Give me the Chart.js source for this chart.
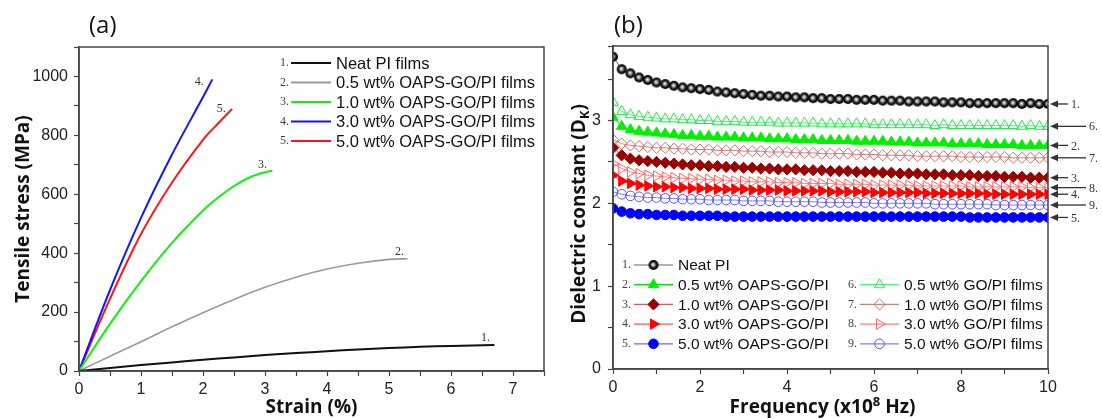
<!DOCTYPE html>
<html>
<head>
<meta charset="utf-8">
<script src="https://cdn.jsdelivr.net/npm/chart.js@4.4.0/dist/chart.umd.min.js"></script>
<style>
body { margin: 0; background: #fff; width: 1102px; height: 419px; overflow: hidden; position: relative; }
#wa { position: absolute; left: 0; top: 0; width: 550px; height: 419px; }
#wb { position: absolute; left: 550px; top: 0; width: 552px; height: 419px; }
.lbl { position: absolute; top: 7px; font: 24px "Open Sans"; color: #111; }
</style>
</head>
<body>
<div id="wa"><canvas id="ca" width="550" height="419"></canvas></div>
<div id="wb"><canvas id="cb" width="552" height="419"></canvas></div>
<div class="lbl" style="left:89px">(a)</div>
<div class="lbl" style="left:614px">(b)</div>
<script>
// ---- (a) tensile stress vs strain
const labelsA = ['Neat PI films', '0.5 wt% OAPS-GO/PI films', '1.0 wt% OAPS-GO/PI films',
                 '3.0 wt% OAPS-GO/PI films', '5.0 wt% OAPS-GO/PI films']
const strainNeat = [0, 0.5, 1, 1.5, 2, 2.5, 3, 3.5, 4, 4.5, 5, 5.5, 6, 6.7]
const stressNeat = [0, 10, 20, 29, 38, 46, 54, 61, 67, 73, 78, 82, 85, 88]
const strain05 = [0, 0.5, 1, 1.5, 2, 2.5, 3, 3.5, 4, 4.5, 5, 5.3]
const stress05 = [0, 50, 99, 150, 198, 243, 284, 318, 346, 366, 379, 381]
const strain10 = [0, 0.5, 1, 1.5, 2, 2.25, 2.5, 2.75, 3, 3.12]
const stress10 = [0, 160, 305, 435, 545, 590, 628, 657, 675, 680]
const strain30 = [0, 0.5, 1, 1.5, 2, 2.15]
const stress30 = [0, 275, 520, 735, 930, 990]
const strain50 = [0, 0.5, 1, 1.5, 2, 2.25, 2.47]
const stress50 = [0, 245, 465, 640, 785, 842, 890]
const strainTicks = [0, 1, 2, 3, 4, 5, 6, 7]
const stressTicks = [0, 200, 400, 600, 800, 1000]

// ---- (b) dielectric constant vs frequency
const labelsB = ['Neat PI', '0.5 wt% OAPS-GO/PI', '1.0 wt% OAPS-GO/PI', '3.0 wt% OAPS-GO/PI', '5.0 wt% OAPS-GO/PI',
                 '0.5 wt% GO/PI films', '1.0 wt% GO/PI films', '3.0 wt% GO/PI films', '5.0 wt% GO/PI films']
const freq = [0, 0.2, 0.4, 0.6, 0.8, 1, 1.2, 1.4, 1.6, 1.8, 2, 2.2, 2.4, 2.6, 2.8, 3, 3.2, 3.4, 3.6, 3.8, 4,
              4.2, 4.4, 4.6, 4.8, 5, 5.2, 5.4, 5.6, 5.8, 6, 6.2, 6.4, 6.6, 6.8, 7, 7.2, 7.4, 7.6, 7.8, 8,
              8.2, 8.4, 8.6, 8.8, 9, 9.2, 9.4, 9.6, 9.8, 10]
const dkNeat = [3.77, 3.62, 3.57, 3.52, 3.49, 3.46, 3.44, 3.42, 3.40, 3.39, 3.38, 3.37, 3.35, 3.34, 3.33, 3.32,
                3.31, 3.30, 3.30, 3.29, 3.29, 3.28, 3.28, 3.27, 3.27, 3.26, 3.26, 3.26, 3.25, 3.25, 3.25, 3.24,
                3.24, 3.24, 3.23, 3.23, 3.23, 3.23, 3.22, 3.22, 3.22, 3.21, 3.21, 3.21, 3.21, 3.21, 3.21, 3.20,
                3.21, 3.20, 3.20]
const dkOaps05 = [3.04, 2.93, 2.89, 2.87, 2.86, 2.85, 2.84, 2.83, 2.82, 2.82, 2.81, 2.81, 2.80, 2.80, 2.80, 2.79,
                  2.79, 2.79, 2.78, 2.78, 2.78, 2.77, 2.77, 2.77, 2.76, 2.76, 2.76, 2.76, 2.75, 2.75, 2.75, 2.75,
                  2.74, 2.74, 2.74, 2.73, 2.73, 2.73, 2.73, 2.72, 2.72, 2.72, 2.72, 2.71, 2.71, 2.71, 2.71, 2.70,
                  2.70, 2.70, 2.70]
const dkOaps10 = [2.67, 2.58, 2.54, 2.52, 2.51, 2.50, 2.49, 2.48, 2.47, 2.46, 2.46, 2.45, 2.45, 2.44, 2.44, 2.43,
                  2.43, 2.42, 2.42, 2.41, 2.41, 2.41, 2.40, 2.40, 2.40, 2.39, 2.39, 2.39, 2.38, 2.38, 2.38, 2.37,
                  2.37, 2.36, 2.36, 2.36, 2.35, 2.35, 2.35, 2.34, 2.34, 2.34, 2.33, 2.33, 2.33, 2.32, 2.32, 2.32,
                  2.31, 2.31, 2.31]
const dkOaps30 = [2.34, 2.27, 2.24, 2.22, 2.21, 2.20, 2.20, 2.19, 2.19, 2.18, 2.18, 2.18, 2.17, 2.17, 2.17, 2.17,
                  2.16, 2.16, 2.16, 2.16, 2.15, 2.15, 2.15, 2.15, 2.15, 2.14, 2.14, 2.14, 2.14, 2.14, 2.13, 2.13,
                  2.13, 2.13, 2.13, 2.13, 2.12, 2.12, 2.12, 2.12, 2.12, 2.12, 2.12, 2.11, 2.11, 2.11, 2.11, 2.11,
                  2.11, 2.11, 2.11]
const dkOaps50 = [1.94, 1.90, 1.88, 1.87, 1.87, 1.86, 1.86, 1.86, 1.85, 1.85, 1.85, 1.85, 1.85, 1.84, 1.84, 1.84,
                  1.84, 1.84, 1.84, 1.84, 1.84, 1.84, 1.84, 1.84, 1.84, 1.84, 1.84, 1.84, 1.84, 1.84, 1.84, 1.84,
                  1.84, 1.84, 1.84, 1.84, 1.84, 1.84, 1.84, 1.84, 1.84, 1.83, 1.83, 1.83, 1.83, 1.83, 1.83, 1.83,
                  1.83, 1.83, 1.83]
const dkGo05 = [3.22, 3.11, 3.07, 3.05, 3.04, 3.03, 3.02, 3.02, 3.01, 3.01, 3.00, 3.00, 2.99, 2.99, 2.99, 2.98,
                2.98, 2.98, 2.98, 2.97, 2.97, 2.97, 2.97, 2.97, 2.96, 2.96, 2.96, 2.96, 2.96, 2.96, 2.95, 2.95,
                2.95, 2.95, 2.95, 2.95, 2.95, 2.94, 2.95, 2.94, 2.94, 2.94, 2.94, 2.94, 2.94, 2.94, 2.94, 2.93,
                2.94, 2.93, 2.93]
const dkGo10 = [2.77, 2.72, 2.70, 2.69, 2.68, 2.67, 2.67, 2.66, 2.66, 2.65, 2.65, 2.65, 2.64, 2.64, 2.64, 2.63,
                2.63, 2.63, 2.62, 2.62, 2.62, 2.61, 2.61, 2.61, 2.60, 2.60, 2.60, 2.60, 2.59, 2.59, 2.59, 2.58,
                2.58, 2.58, 2.58, 2.57, 2.57, 2.57, 2.57, 2.57, 2.56, 2.56, 2.56, 2.56, 2.56, 2.56, 2.55, 2.55,
                2.55, 2.55, 2.55]
const dkGo30 = [2.48, 2.42, 2.38, 2.36, 2.34, 2.33, 2.32, 2.31, 2.30, 2.30, 2.29, 2.29, 2.28, 2.28, 2.27, 2.27,
                2.26, 2.26, 2.26, 2.25, 2.25, 2.25, 2.24, 2.24, 2.24, 2.24, 2.23, 2.23, 2.23, 2.23, 2.22, 2.22,
                2.22, 2.22, 2.22, 2.21, 2.21, 2.21, 2.21, 2.21, 2.21, 2.20, 2.20, 2.20, 2.20, 2.20, 2.20, 2.20,
                2.19, 2.19, 2.19]
const dkGo50 = [2.14, 2.11, 2.09, 2.08, 2.07, 2.07, 2.06, 2.06, 2.05, 2.05, 2.05, 2.04, 2.04, 2.04, 2.04, 2.03,
                2.03, 2.03, 2.03, 2.02, 2.02, 2.02, 2.02, 2.02, 2.01, 2.01, 2.01, 2.01, 2.01, 2.01, 2.00, 2.00,
                2.00, 2.00, 2.00, 2.00, 2.00, 1.99, 1.99, 1.99, 1.99, 1.99, 1.99, 1.99, 1.98, 1.98, 1.98, 1.98,
                1.98, 1.98, 1.98]
const freqTicks = [0, 2, 4, 6, 8, 10]
const dkTicks = [0, 1, 2, 3]

const pairs = (xs, ys) => xs.map((x, i) => ({x: x, y: ys[i]}))
const AX = '#444'
const SERIF = '12px "Liberation Serif"'

function axis(min, max, step, shown, pad, extra) {
    return Object.assign({
        type: 'linear', min: min, max: max,
        grid: {drawOnChartArea: false, tickLength: 5, tickColor: AX, tickWidth: 1.2},
        border: {color: AX, width: 1.5},
        ticks: {
            stepSize: step, autoSkip: false, maxRotation: 0, padding: pad, color: '#222',
            font: {family: 'Arial', size: 16},
            callback: function(v) {
                const s = shown.find(t => Math.abs(t - v) < 1e-6)
                return s === undefined ? '' : String(s)
            }
        }
    }, extra)
}

const box = {
    id: 'box',
    afterDraw(c) {
        const ctx = c.ctx, a = c.chartArea
        ctx.save()
        ctx.strokeStyle = AX
        ctx.lineWidth = 1.5
        ctx.strokeRect(a.left, a.top, a.right - a.left, a.bottom - a.top)
        ctx.restore()
    }
}

function richText(ctx, parts, cx, cy, rot) {
    ctx.save()
    ctx.translate(cx, cy)
    if (rot) ctx.rotate(rot)
    ctx.textBaseline = 'middle'
    ctx.fillStyle = '#111'
    let w = 0
    parts.forEach(p => { ctx.font = p.font; p.w = ctx.measureText(p.t).width; w += p.w })
    let x = -w / 2
    parts.forEach(p => { ctx.font = p.font; ctx.textAlign = 'left'; ctx.fillText(p.t, x, p.dy || 0); x += p.w })
    ctx.restore()
}

function sphere(r) {
    const c = document.createElement('canvas')
    const s = Math.ceil(r * 2 + 2)
    c.width = c.height = s
    const g = c.getContext('2d'), m = s / 2
    const grd = g.createRadialGradient(m - 0.5, m - 0.5, 0.2, m, m, r)
    grd.addColorStop(0, '#fff')
    grd.addColorStop(0.3, '#999')
    grd.addColorStop(0.65, '#111')
    grd.addColorStop(1, '#000')
    g.fillStyle = grd
    g.beginPath(); g.arc(m, m, r, 0, Math.PI * 2); g.fill()
    return c
}

function drawMarker(ctx, ds, x, y) {
    const style = ds.pointStyle, r = ds.pointRadius
    if (style instanceof HTMLCanvasElement) {
        ctx.drawImage(style, x - style.width / 2, y - style.height / 2)
        return
    }
    const rad = (ds.pointRotation || 0) * Math.PI / 180
    ctx.beginPath()
    if (style === 'circle') {
        ctx.arc(x, y, r, 0, Math.PI * 2)
    } else {
        const n = style === 'triangle' ? 3 : 4
        for (let k = 0; k < n; k++) {
            const a = rad + k * 2 * Math.PI / n
            const px = x + Math.sin(a) * r, py = y - Math.cos(a) * r
            k ? ctx.lineTo(px, py) : ctx.moveTo(px, py)
        }
        ctx.closePath()
    }
    ctx.fillStyle = ds.pointBackgroundColor
    ctx.fill()
    ctx.lineWidth = 1
    ctx.strokeStyle = ds.pointBorderColor
    ctx.stroke()
}

// ---------- chart (a)
const endOffsets = [[-9, -7], [-8, -7], [-10, -6], [-13, 2], [-11, 0]]
const colorsA = ['#111111', '#9a9a9a', '#11ee11', '#1515ff', '#ff1515']
const seriesA = [pairs(strainNeat, stressNeat), pairs(strain05, stress05), pairs(strain10, stress10),
                 pairs(strain30, stress30), pairs(strain50, stress50)]

const extrasA = {
    id: 'extrasA',
    afterDraw(c) {
        const ctx = c.ctx
        ctx.save()
        // end labels
        c.data.datasets.forEach((ds, i) => {
            const pts = c.getDatasetMeta(i).data
            const p = pts[pts.length - 1]
            ctx.font = SERIF; ctx.fillStyle = '#333'
            ctx.textAlign = 'center'; ctx.textBaseline = 'middle'
            ctx.fillText((i + 1) + '.', p.x + endOffsets[i][0], p.y + endOffsets[i][1])
        })
        // legend
        c.data.datasets.forEach((ds, i) => {
            const y = 63 + i * 19.5
            ctx.font = SERIF; ctx.fillStyle = '#444'
            ctx.textAlign = 'right'; ctx.textBaseline = 'middle'
            ctx.fillText((i + 1) + '.', 289, y)
            ctx.strokeStyle = ds.borderColor; ctx.lineWidth = 2
            ctx.beginPath(); ctx.moveTo(291, y); ctx.lineTo(331, y); ctx.stroke()
            ctx.font = '16.5px Arial'; ctx.fillStyle = '#111'; ctx.textAlign = 'left'
            ctx.fillText(ds.label, 336, y + 1)
        })
        ctx.restore()
    }
}

new Chart(document.getElementById('ca'), {
    type: 'line',
    data: {
        datasets: seriesA.map((d, i) => ({
            label: labelsA[i], data: d, borderColor: colorsA[i], borderWidth: i === 1 ? 1.6 : 2,
            pointRadius: 0, tension: 0.35, fill: false
        }))
    },
    options: {
        responsive: false, animation: false, devicePixelRatio: 1,
        layout: {padding: {left: 0, right: 6, top: 47, bottom: 0}},
        plugins: {legend: {display: false}, tooltip: {enabled: false}},
        scales: {
            x: axis(0, 7.5, 0.5, strainTicks, 4, {
                afterFit: s => { s.height = 48 },
                title: {display: true, text: 'Strain (%)', color: '#111', padding: {top: 0, bottom: 0},
                        font: {family: 'Open Sans', size: 19, weight: 'bold'}}
            }),
            y: axis(0, 1100, 100, stressTicks, 6, {
                afterFit: s => { s.width = 79 },
                title: {display: true, text: 'Tensile stress (MPa)', color: '#111', padding: {top: 12, bottom: 0},
                        font: {family: 'Open Sans', size: 19, weight: 'bold'}}
            })
        }
    },
    plugins: [box, extrasA]
})

// ---------- chart (b)
const blackBall = sphere(5)
function dsB(label, data, style, fill, stroke, line, r, rot) {
    return {
        label: label, data: pairs(freq, data), pointStyle: style, pointBackgroundColor: fill,
        pointBorderColor: stroke, borderColor: line, borderWidth: 1, pointRadius: r,
        pointHoverRadius: r, pointRotation: rot || 0, pointBorderWidth: 1, tension: 0, fill: false
    }
}
const NONE = 'rgba(0,0,0,0)'
const datasetsB = [
    dsB(labelsB[0], dkNeat, blackBall, '#000', '#000', '#666', 5),
    dsB(labelsB[1], dkOaps05, 'triangle', '#00f000', '#00f000', '#00e000', 6),
    dsB(labelsB[2], dkOaps10, 'rectRot', '#990000', '#990000', '#d06060', 5.6),
    dsB(labelsB[3], dkOaps30, 'triangle', '#ff0000', '#ff0000', '#ff5555', 6, 90),
    dsB(labelsB[4], dkOaps50, 'circle', '#0000ff', '#0000ff', '#6666ff', 4.8),
    dsB(labelsB[5], dkGo05, 'triangle', NONE, '#22ee44', '#55ee88', 6),
    dsB(labelsB[6], dkGo10, 'rectRot', NONE, '#d07070', '#d08080', 5.6),
    dsB(labelsB[7], dkGo30, 'triangle', NONE, '#ff6666', '#ff8080', 6, 90),
    dsB(labelsB[8], dkGo50, 'circle', NONE, '#5555ff', '#8080ff', 4.8)
]
const longArrow = [false, false, false, false, false, true, true, true, true]

const extrasB = {
    id: 'extrasB',
    afterDraw(c) {
        const ctx = c.ctx, a = c.chartArea, ys = c.scales.y
        ctx.save()
        // arrows on the right
        c.data.datasets.forEach((ds, i) => {
            const y = ys.getPixelForValue(ds.data[ds.data.length - 1].y)
            const x0 = a.right + 2, len = longArrow[i] ? 36 : 18
            ctx.fillStyle = '#333'; ctx.strokeStyle = '#333'; ctx.lineWidth = 1.3
            ctx.beginPath(); ctx.moveTo(x0, y); ctx.lineTo(x0 + 8, y - 3.5); ctx.lineTo(x0 + 8, y + 3.5)
            ctx.closePath(); ctx.fill()
            ctx.beginPath(); ctx.moveTo(x0 + 6, y); ctx.lineTo(x0 + len, y); ctx.stroke()
            ctx.font = SERIF; ctx.textAlign = 'left'; ctx.textBaseline = 'middle'
            ctx.fillText((i + 1) + '.', x0 + len + 3, y + 1)
        })
        // legend
        c.data.datasets.forEach((ds, i) => {
            const col = i < 5 ? 0 : 1, row = i < 5 ? i : i - 4
            const y = 265 + row * 19.7
            const nx = col ? 307 : 81, lx = col ? 310 : 84
            ctx.font = SERIF; ctx.fillStyle = '#444'
            ctx.textAlign = 'right'; ctx.textBaseline = 'middle'
            ctx.fillText((i + 1) + '.', nx, y)
            ctx.strokeStyle = ds.borderColor; ctx.lineWidth = 1.2
            ctx.beginPath(); ctx.moveTo(lx, y); ctx.lineTo(lx + 39, y); ctx.stroke()
            drawMarker(ctx, ds, lx + 19.5, y)
            ctx.font = '15.5px Arial'; ctx.fillStyle = '#111'; ctx.textAlign = 'left'
            ctx.fillText(ds.label, lx + 44, y + 1)
        })
        // axis titles with sub/superscripts
        const big = 'bold 19px "Open Sans"', small = 'bold 13px "Open Sans"'
        richText(ctx, [{t: 'Frequency (x10', font: big}, {t: '8', font: small, dy: -6}, {t: ' Hz)', font: big}],
                 (a.left + a.right) / 2 - 8, 408, 0)
        richText(ctx, [{t: 'Dielectric constant (D', font: big}, {t: 'K', font: small, dy: 5}, {t: ')', font: big}],
                 30, 214, -Math.PI / 2)
        ctx.restore()
    }
}

new Chart(document.getElementById('cb'), {
    type: 'line',
    data: {datasets: datasetsB},
    options: {
        responsive: false, animation: false, devicePixelRatio: 1,
        layout: {padding: {left: 0, right: 54, top: 46, bottom: 0}},
        plugins: {legend: {display: false}, tooltip: {enabled: false}},
        scales: {
            x: axis(0, 10, 1, freqTicks, 4, {afterFit: s => { s.height = 50 }}),
            y: axis(0, 3.9, 0.5, dkTicks, 7, {afterFit: s => { s.width = 63 }})
        }
    },
    plugins: [box, extrasB]
})
</script>
</body>
</html>
